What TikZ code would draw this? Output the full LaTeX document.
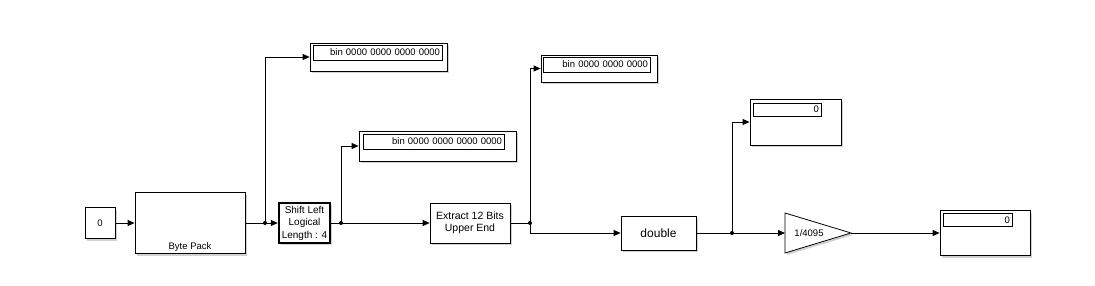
\documentclass[tikz,border=0pt]{standalone}
\usepackage{fontspec}
\setmainfont{Liberation Sans}
\usepackage{tikz}
\usetikzlibrary{arrows.meta,positioning,shadows}

\begin{document}
\begin{tikzpicture}[x=1pt,y=-1pt,line width=0.8pt,
  font=\fontsize{9.5}{11}\selectfont,
  blk/.style={draw,fill=white,inner sep=1pt,align=center,
    drop shadow={shadow xshift=2pt,shadow yshift=-2pt,fill=black!35}},
  dispbox/.style={blk,inner sep=0pt},
  valbox/.style={draw,fill=white,inner xsep=2pt,inner ysep=0pt,
    minimum height=15pt,align=right},
  sig/.style={-{Triangle[length=7pt,width=6pt]}},
  jdot/.style={circle,fill,inner sep=0pt,minimum size=4pt}]
  \useasboundingbox (0,0) rectangle (1095,286);

  % blocks
  \node[blk,minimum width=30pt,minimum height=31pt] (const) at (100,223) {0};
  \node[blk,minimum width=110pt,minimum height=61pt] (bytepack) at (190,223) {};
  \node[above=0pt of bytepack.south,inner sep=2pt] (bplabel) {Byte Pack};
  \node[blk,line width=2.4pt,minimum width=51pt,minimum height=40pt,inner sep=0pt,
    font=\fontsize{10}{12.5}\selectfont] (shift) at (304.5,223) {Shift Left\\Logical\\Length : 4};
  \node[blk,minimum width=80pt,minimum height=40pt,
    font=\fontsize{10.5}{12}\selectfont] (extract) at (470,223) {Extract 12 Bits\\Upper End};
  \node[blk,minimum width=75pt,minimum height=34pt,
    font=\fontsize{12}{14}\selectfont] (double) at (658.5,233) {double};

  % gain
  \coordinate (gainin) at (785,233);
  \coordinate (gainout) at (851,233);
  \draw[fill=white,drop shadow={shadow xshift=2pt,shadow yshift=-2pt,fill=black!35}]
    (785,213) -- (gainout) -- (785,253) -- cycle;
  \node (gaintxt) at (809,233) {1/4095};

  % displays
  \node[dispbox,minimum width=137pt,minimum height=28pt] (disp1) at (378.5,57) {};
  \node[valbox,text width=125pt] (val1) at (377.5,52.5) {bin 0000 0000 0000 0000};
  \node[dispbox,minimum width=157pt,minimum height=30pt] (disp2) at (437.5,146) {};
  \node[valbox,text width=137pt] (val2) at (433.5,141.5) {bin 0000 0000 0000 0000};
  \node[dispbox,minimum width=116pt,minimum height=27pt] (disp3) at (599,68.5) {};
  \node[valbox,text width=103pt] (val3) at (596.5,64.5) {bin 0000 0000 0000};
  \node[dispbox,minimum width=91pt,minimum height=46pt] (disp4) at (795.5,122) {};
  \node[valbox,minimum height=13pt,text width=64pt] (val4) at (787,109.5) {0};
  \node[dispbox,minimum width=90pt,minimum height=45pt] (disp5) at (985,233) {};
  \node[valbox,minimum height=13pt,text width=65pt] (val5) at (977.5,220) {0};

  % junctions
  \node[jdot] (j1) at (265,223) {};
  \node[jdot] (j2) at (341,223) {};
  \node[jdot] (j3) at (530,223) {};
  \node[jdot] (j4) at (732,233) {};

  % signals
  \draw[sig] (const) -- (bytepack);
  \draw[sig] (bytepack) -- (shift);
  \draw[sig] (j1.center) |- (disp1.west);
  \draw[sig] (shift) -- (extract);
  \draw[sig] (j2.center) |- (disp2.west);
  \draw (extract) -- (j3.center);
  \draw[sig] (j3.center) |- (disp3.west);
  \draw[sig] (j3.center) |- (double.west);
  \draw[sig] (double) -- (gainin);
  \draw[sig] (j4.center) |- (disp4.west);
  \draw[sig] (gainout) -- (disp5.west);
\end{tikzpicture}
\end{document}
